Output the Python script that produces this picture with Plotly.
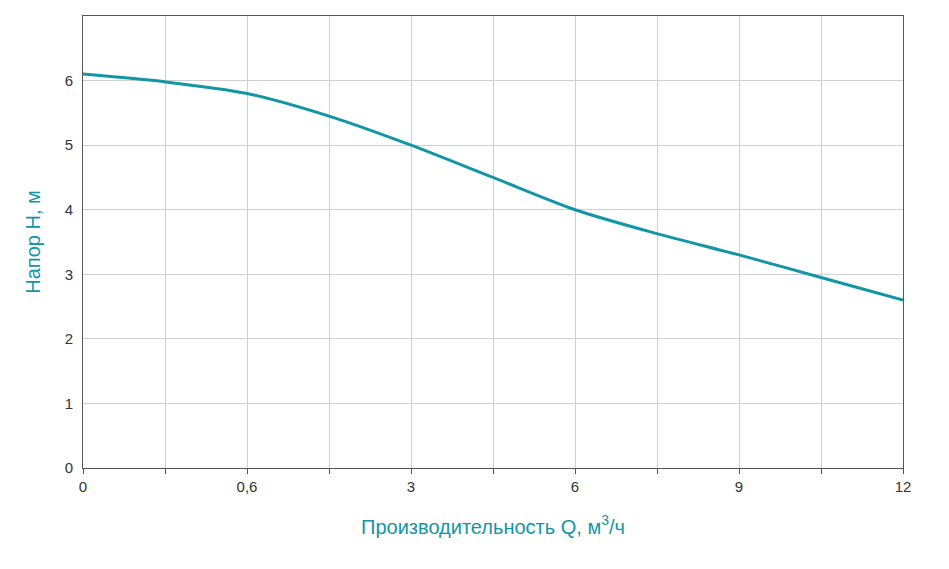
import plotly.graph_objects as go

x_idx = [0, 1, 2, 3, 4, 5, 6, 7, 8, 9, 10]
head = [6.1, 5.98, 5.8, 5.45, 5.0, 4.5, 4.0, 3.63, 3.3, 2.95, 2.6]
tick_vals = [0, 1, 2, 3, 4, 5, 6, 7, 8, 9, 10]
tick_text = ["0", "", "0,6", "", "3", "", "6", "", "9", "", "12"]

teal = "#1296a6"
fig = go.Figure(go.Scatter(x=x_idx, y=head, mode="lines",
                           line=dict(color=teal, width=3, shape="spline", smoothing=0.8)))
fig.update_layout(
    width=949, height=569, plot_bgcolor="white", paper_bgcolor="white",
    margin=dict(l=75, r=54, t=8, b=109), showlegend=False,
    font=dict(family="Liberation Sans, Arial", size=15, color="#333"),
)
fig.update_xaxes(range=[0, 10], tickvals=tick_vals, ticktext=tick_text,
                 showgrid=True, gridcolor="#d0d0d0", ticks="outside", ticklen=5,
                 tickcolor="#555", showline=True, linecolor="#555", mirror=True,
                 title=dict(text="Производительность Q, м<sup>3</sup>/ч", font=dict(color=teal, size=20), standoff=25))
fig.update_yaxes(range=[0, 7], dtick=1, showgrid=True, gridcolor="#d0d0d0",
                 showline=True, linecolor="#555", mirror=True, zeroline=False,
                 ticklabelstandoff=6,
                 title=dict(text="Напор H, м", font=dict(color=teal, size=20), standoff=18))
fig.write_html("out.html")
